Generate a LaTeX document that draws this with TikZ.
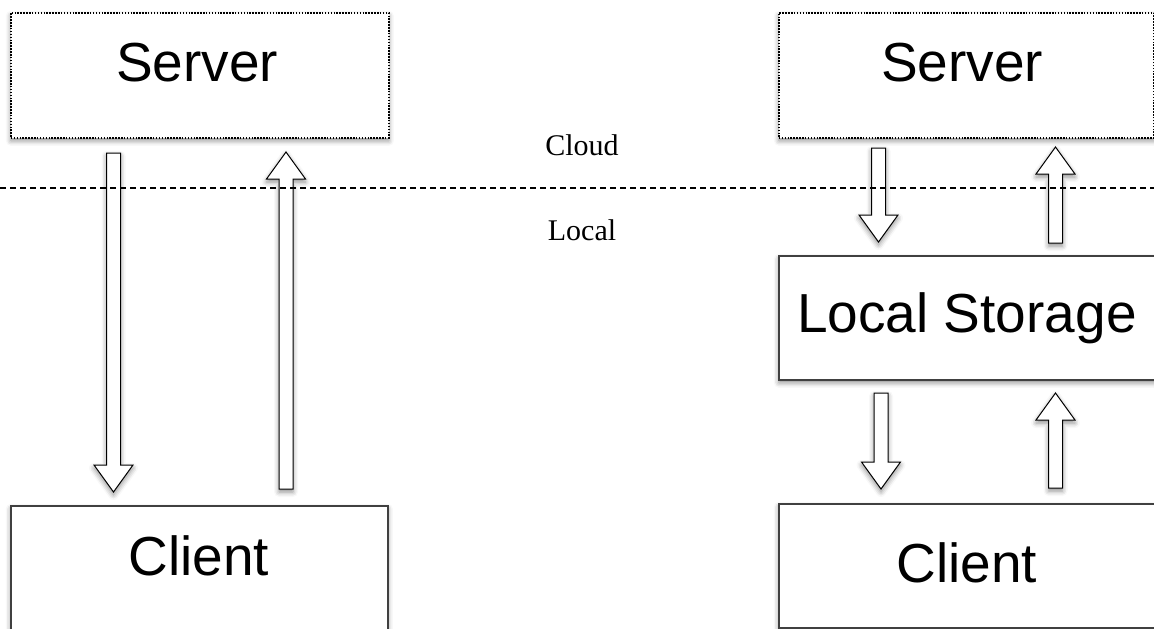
\documentclass[tikz,border=0pt]{standalone}
\usepackage{fontspec}
\setmainfont{Liberation Sans}
\newfontfamily\zonefont{Liberation Serif}
\usetikzlibrary{calc,shadows.blur}

\tikzset{
  soft/.style={blur shadow={shadow xshift=0pt,shadow yshift=-3pt,shadow blur radius=5pt,shadow opacity=45}},
  plainbox/.style={rectangle,draw=black!75,line width=1.6pt,fill=white,anchor=north west,inner sep=0pt,soft},
  cloudbox/.style={plainbox,draw=black,line width=1.7pt,dash pattern=on 1.5pt off 1.4pt},
  boxtext/.style={anchor=base,inner sep=0pt,font=\fontsize{55}{60}\selectfont},
  zonetext/.style={anchor=base,inner sep=0pt,font=\zonefont\fontsize{30}{34}\selectfont},
  blockarr/.style={draw=black,line width=1pt,fill=white,line join=miter,soft},
  divider/.style={line width=1.8pt,dash pattern=on 6pt off 4pt}
}

% hollow vertical arrow from #1 (tail) to #2 (tip)
\newcommand{\blockarrow}[2]{%
  \draw[blockarr] let \p1=(#1), \p2=(#2), \n1={sign(\y2-\y1)} in
    (\x1-7pt,\y1) -- (\x2-7pt,{\y2-\n1*27pt}) -- (\x2-19.5pt,{\y2-\n1*27pt})
    -- (\x2,\y2) -- (\x2+19.5pt,{\y2-\n1*27pt}) -- (\x2+7pt,{\y2-\n1*27pt})
    -- (\x1+7pt,\y1) -- cycle;}

\begin{document}
\begin{tikzpicture}[x=1pt,y=-1pt]
\clip (0,0) rectangle (1154,629);

% without local storage
\node[cloudbox,minimum width=378pt,minimum height=125pt] (srvL) at (10,12) {};
\node[plainbox,minimum width=377pt,minimum height=140pt] (cliL) at (10,505) {};
\node[boxtext] (srvLtxt) at (197,81) {Server};
\node[boxtext] (cliLtxt) at (199,575) {Client};

% with local storage
\node[cloudbox,minimum width=375pt,minimum height=125pt] (srvR) at (778,12) {};
\node[plainbox,minimum width=400pt,minimum height=124pt] (stoR) at (778,255) {};
\node[plainbox,minimum width=400pt,minimum height=124pt] (cliR) at (778,503) {};
\node[boxtext] (srvRtxt) at (962,81) {Server};
\node[boxtext] (stoRtxt) at (967,332) {Local Storage};
\node[boxtext] (cliRtxt) at (967,582) {Client};

% arrow ends
\coordinate (lDownA) at (113.5,153);  \coordinate (lDownB) at (113.5,492);
\coordinate (lUpA)   at (286,489);    \coordinate (lUpB)   at (286,152);
\coordinate (rDownA) at (878.5,148);  \coordinate (rDownB) at (878.5,242);
\coordinate (rUpA)   at (1055.5,243); \coordinate (rUpB)   at (1055.5,147);
\coordinate (sDownA) at (881,393);    \coordinate (sDownB) at (881,489);
\coordinate (sUpA)   at (1055.5,488); \coordinate (sUpB)   at (1055.5,393);

\foreach \a/\b in {lDownA/lDownB,lUpA/lUpB,rDownA/rDownB,rUpA/rUpB,sDownA/sDownB,sUpA/sUpB}
{
    \blockarrow{\a}{\b}
}

% cloud / local divide
\coordinate (divW) at (0,188);
\coordinate (divE) at (1154,188);
\draw[divider] (divW) -- (divE);
\node[zonetext] (cloudtxt) at (582,155) {Cloud};
\node[zonetext] (localtxt) at (582,240) {Local};
\end{tikzpicture}
\end{document}
